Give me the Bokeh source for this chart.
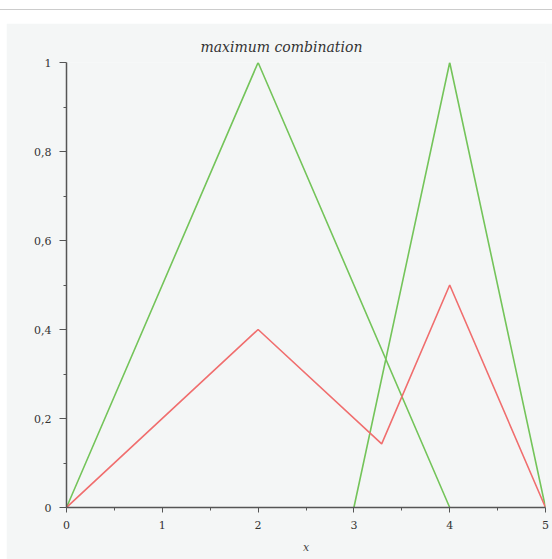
from bokeh.plotting import figure
from bokeh.layouts import column, row
from bokeh.models import Range1d, FixedTicker, Spacer
from bokeh.embed import file_html
from bokeh.resources import INLINE

# data
green1_x = [0, 2, 4]
green1_y = [0, 1, 0]
green2_x = [3, 4, 5]
green2_y = [0, 1, 0]
red_x = [0, 2, 3.29, 4, 5]
red_y = [0, 0.4, 0.143, 0.5, 0]
x_ticks = [0, 1, 2, 3, 4, 5]
y_ticks = [0, 0.2, 0.4, 0.6, 0.8, 1]
y_labels = ["0", "0,2", "0,4", "0,6", "0,8", "1"]

BG = "#f4f6f6"
AX = "#555555"
FONT = "DejaVu Serif"

p = figure(width=546, height=536, output_backend="svg", toolbar_location=None,
           x_range=Range1d(0, 5), y_range=Range1d(0, 1),
           min_border_left=60, min_border_right=7, min_border_top=39,
           min_border_bottom=52,
           background_fill_color=BG, border_fill_color=BG,
           title="maximum combination")
p.outline_line_color = None
p.grid.visible = False

p.title.text_font = FONT
p.title.text_font_style = "italic"
p.title.text_font_size = "14px"
p.title.text_color = "#333333"
p.title.align = "left"
p.title.offset = 134
p.title.standoff = 16

p.line(green1_x, green1_y, line_color="#74c45a", line_width=1.6)
p.line(green2_x, green2_y, line_color="#74c45a", line_width=1.6)
p.line(red_x, red_y, line_color="#f06e6e", line_width=1.6)

for ax in (p.xaxis[0], p.yaxis[0]):
    ax.axis_line_color = AX
    ax.axis_line_width = 1.5
    ax.major_tick_line_color = AX
    ax.minor_tick_line_color = AX
    ax.major_tick_in = 0
    ax.minor_tick_in = 0
    ax.minor_tick_out = 3
    ax.major_label_text_font = FONT
    ax.major_label_text_font_size = "11px"
    ax.major_label_text_color = "#333333"

p.xaxis.ticker = FixedTicker(ticks=x_ticks, minor_ticks=[0.5, 1.5, 2.5, 3.5, 4.5])
p.xaxis.major_tick_out = 5
p.xaxis.major_label_standoff = 8
p.xaxis.axis_label = "x"
p.xaxis.axis_label_text_font = FONT
p.xaxis.axis_label_text_font_style = "italic"
p.xaxis.axis_label_text_font_size = "11px"
p.xaxis.axis_label_standoff = 9

p.yaxis.ticker = FixedTicker(ticks=y_ticks, minor_ticks=[0.1, 0.3, 0.5, 0.7, 0.9])
p.yaxis.major_label_overrides = {t: l for t, l in zip(y_ticks, y_labels)}
p.yaxis.major_tick_out = 7
p.yaxis.major_label_standoff = 8
p.yaxis.major_label_orientation = "horizontal"

layout = column(
    Spacer(width=552, height=9),
    Spacer(width=552, height=1, styles={"background-color": "#cccccc"}),
    Spacer(width=552, height=13),
    row(Spacer(width=6, height=536), p, spacing=0),
    spacing=0,
)
open("out.html", "w").write(file_html(layout, INLINE))
